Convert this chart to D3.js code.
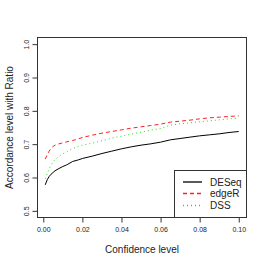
<!DOCTYPE html>
<html><head><meta charset="utf-8">
<script src="https://cdn.jsdelivr.net/npm/d3@7"></script>
<style>body{margin:0;background:#fff}svg{display:block}text{font-family:"Liberation Sans",Arial,sans-serif;fill:#222}</style>
</head><body>
<script>
const confidence = [0.001,0.002,0.003,0.004,0.005,0.006,0.008,0.010,0.012,0.015,0.018,0.020,0.025,0.030,0.035,0.040,0.045,0.050,0.055,0.060,0.065,0.070,0.075,0.080,0.085,0.090,0.095,0.100];
const deseq = [0.578,0.593,0.603,0.610,0.615,0.620,0.627,0.633,0.638,0.648,0.653,0.657,0.664,0.672,0.679,0.686,0.692,0.697,0.701,0.706,0.713,0.717,0.721,0.725,0.728,0.731,0.735,0.738];
const edger = [0.655,0.668,0.679,0.688,0.693,0.697,0.701,0.704,0.707,0.711,0.716,0.720,0.727,0.733,0.738,0.743,0.748,0.752,0.756,0.760,0.766,0.769,0.772,0.776,0.779,0.781,0.783,0.785];
const dss = [0.596,0.612,0.626,0.638,0.647,0.654,0.664,0.671,0.677,0.687,0.693,0.697,0.703,0.710,0.718,0.724,0.730,0.736,0.742,0.747,0.757,0.761,0.764,0.767,0.770,0.773,0.776,0.778];
const xTicks = [0.00,0.02,0.04,0.06,0.08,0.10];
const yTicks = [0.5,0.6,0.7,0.8,0.9,1.0];
const seriesNames = ["DESeq","edgeR","DSS"];
const seriesColors = ["#000000","#ff2020","#22dd22"];
const seriesDash = [null,"4,3","1,3"];
const seriesData = [deseq, edger, dss];

const W=266,H=265;
const L=37.5,R=246.5,T=37.5,B=217.5;
const svg=d3.select("body").append("svg").attr("width",W).attr("height",H);
const x=d3.scaleLinear().domain([-0.00296,0.10396]).range([L,R]);
const y=d3.scaleLinear().domain([0.48,1.02]).range([B,T]);

const line=d3.line().x((d,i)=>x(confidence[i])).y(d=>y(d));
seriesData.forEach((s,k)=>{
  svg.append("path").datum(s).attr("d",line).attr("fill","none")
    .attr("stroke",seriesColors[k]).attr("stroke-width",1)
    .attr("stroke-dasharray",seriesDash[k]);
});

svg.append("rect").attr("x",L).attr("y",T).attr("width",R-L).attr("height",B-T)
  .attr("fill","none").attr("stroke","#333").attr("stroke-width",1);

const xa=svg.append("g").attr("transform",`translate(0,${B})`)
  .call(d3.axisBottom(x).tickValues(xTicks).tickFormat(d3.format(".2f")).tickSize(5).tickPadding(5));
xa.select(".domain").attr("d",`M${x(0)},0H${x(0.1)}`).attr("stroke","#333");
xa.selectAll(".tick line").attr("stroke","#333");
xa.selectAll(".tick text").attr("font-size",7).attr("fill","#222").attr("font-family","Liberation Sans, Arial, sans-serif");

const ya=svg.append("g").attr("transform",`translate(${L},0)`)
  .call(d3.axisLeft(y).tickValues(yTicks).tickFormat(d3.format(".1f")).tickSize(5));
ya.select(".domain").attr("d",`M0,${y(0.5)}V${y(1.0)}`).attr("stroke","#333");
ya.selectAll(".tick line").attr("stroke","#333");
ya.selectAll(".tick text").attr("font-size",7).attr("fill","#222")
  .attr("font-family","Liberation Sans, Arial, sans-serif")
  .attr("x",null).attr("dy",null)
  .attr("text-anchor","middle")
  .attr("transform","translate(-9,0) rotate(-90)");

svg.append("text").attr("x",(L+R)/2).attr("y",252.5).attr("text-anchor","middle")
  .attr("font-size",10).text("Confidence level");
svg.append("text").attr("transform",`translate(13,${(T+B)/2}) rotate(-90)`)
  .attr("text-anchor","middle").attr("font-size",10).text("Accordance level with Ratio");

const lg=svg.append("g");
lg.append("rect").attr("x",174.5).attr("y",170.5).attr("width",R-174.5).attr("height",B-170.5)
  .attr("fill","#fff").attr("stroke","#333").attr("stroke-width",1);
const ly=[182,193.5,205.5];
seriesNames.forEach((n,k)=>{
  lg.append("path").attr("d",`M183,${ly[k]}H202`).attr("fill","none")
    .style("stroke",seriesColors[k]).attr("stroke-width",1.3)
    .attr("stroke-dasharray",seriesDash[k]);
  lg.append("text").attr("x",210).attr("y",ly[k]+3.5).attr("font-size",10).text(n);
});
</script>
</body></html>
